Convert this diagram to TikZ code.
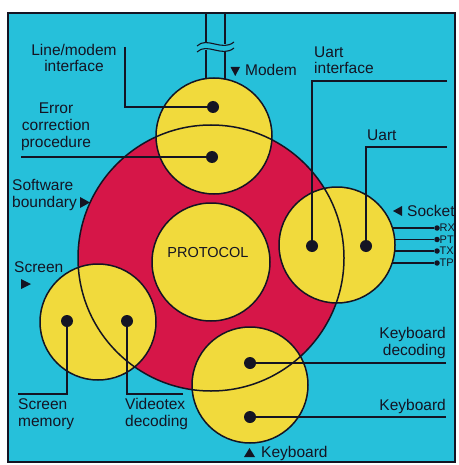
\documentclass[tikz,border=0pt]{standalone}
\usepackage{fontspec}
\setmainfont{Liberation Sans}
\definecolor{bgcyan}{RGB}{38,192,218}
\definecolor{pred}{RGB}{214,22,72}
\definecolor{pyel}{RGB}{241,218,60}
\definecolor{ink}{RGB}{20,20,35}
\tikzset{
  lbl/.style={inner sep=0pt, font=\fontsize{15.5}{16.8}\selectfont, text=ink},
  small/.style={inner sep=0pt, font=\fontsize{11}{11}\selectfont, text=ink},
  bigdot/.style={circle, fill=ink, minimum size=12pt, inner sep=0pt},
  smalldot/.style={circle, fill=ink, minimum size=5.5pt, inner sep=0pt},
  leader/.style={draw=ink, line width=1.3pt},
  ring/.style={draw=ink, line width=1.5pt},
  tri/.style={fill=ink},
}
\begin{document}
\begin{tikzpicture}[x=1pt,y=-1pt]
\useasboundingbox (0,0) rectangle (458,465);
\fill[white] (0,0) rectangle (458,465);
% panel
\fill[bgcyan] (8,13) rectangle (455,462);
\draw[ink, line width=1.4pt] (8,13) rectangle (455,462);

% modem pipe (behind the top circle)
\coordinate (p1t) at (206,13);
\coordinate (p2t) at (225,13);
\coordinate (p1a) at (206,44);
\coordinate (p2a) at (225,44);
\coordinate (p1b) at (206,50);
\coordinate (p2b) at (225,50);
\coordinate (p1c) at (206,100);
\coordinate (p2c) at (225,100);
\draw[leader] (p1t) -- (p1a) (p2t) -- (p2a);
\draw[leader] (p1b) -- (p1c) (p2b) -- (p2c);
\coordinate (w1s) at (197,46);
\coordinate (w1e) at (234,42);
\coordinate (w2s) at (197,52);
\coordinate (w2e) at (234,48);
\fill[bgcyan] (w1s) .. controls (207,36) and (222,52) .. (w1e) -- (w2e) .. controls (222,58) and (207,42) .. (w2s) -- cycle;
\draw[ink, line width=1.1pt] (w1s) .. controls (207,36) and (222,52) .. (w1e);
\draw[ink, line width=1.1pt] (w2s) .. controls (207,42) and (222,58) .. (w2e);

% socket lines (behind the right circle)
\node[smalldot] (rx) at (437,228) {};
\node[smalldot] (pt) at (437,239.5) {};
\node[smalldot] (tx) at (437,251) {};
\node[smalldot] (tp) at (437,263) {};
\coordinate (rxs) at (370,228);
\coordinate (pts) at (370,239.5);
\coordinate (txs) at (370,251);
\coordinate (tps) at (370,263);
\draw[leader] (rxs) -- (rx);
\draw[leader] (pts) -- (pt);
\draw[leader] (txs) -- (tx);
\draw[leader] (tps) -- (tp);
\node[small, anchor=west] (rxl) at (439.5,228) {RX};
\node[small, anchor=west] (ptl) at (439.5,239.5) {PT};
\node[small, anchor=west] (txl) at (439.5,251) {TX};
\node[small, anchor=west] (tpl) at (439.5,263) {TP};

% software boundary (red)
\coordinate (rc) at (211,258);
\fill[pred] (rc) circle[radius=133];

% protocol
\node[circle, fill=pyel, ring, minimum size=118pt, inner sep=0pt] (proto) at (211,262) {};
\node[lbl, font=\fontsize{14.5}{16}\selectfont, anchor=base] (ptext) at (208,257) {PROTOCOL};

% four yellow circles
\node[circle, fill=pyel, ring, minimum size=116pt, inner sep=0pt] (top) at (214,136) {};
\node[circle, fill=pyel, ring, minimum size=116pt, inner sep=0pt] (right) at (337,245) {};
\node[circle, fill=pyel, ring, minimum size=116pt, inner sep=0pt] (left) at (98,322) {};
\node[circle, fill=pyel, ring, minimum size=116pt, inner sep=0pt] (bottom) at (250,385) {};

% red circle outline on top
\draw[ring] (rc) circle[radius=133];

% dots
\node[bigdot] (d1) at (213,107) {};
\node[bigdot] (d2) at (212,157) {};
\node[bigdot] (d3) at (312,246) {};
\node[bigdot] (d4) at (366,246) {};
\node[bigdot] (d5) at (67,321) {};
\node[bigdot] (d6) at (127,321) {};
\node[bigdot] (d7) at (250,363) {};
\node[bigdot] (d8) at (250,417) {};

% leader end points
\coordinate (e1) at (125,47);
\coordinate (e2) at (21,157);
\coordinate (e3) at (447,81);
\coordinate (e4) at (447,147);
\coordinate (e5) at (18,394);
\coordinate (e6) at (183,394);
\coordinate (e7) at (446,363);
\coordinate (e8) at (446,417);

\draw[leader] (e1) |- (d1);
\draw[leader] (e2) -- (d2);
\draw[leader] (e3) -| (d3);
\draw[leader] (e4) -| (d4);
\draw[leader] (e5) -| (d5);
\draw[leader] (e6) -| (d6);
\draw[leader] (e7) -- (d7);
\draw[leader] (e8) -- (d8);

% labels (anchor=base is the baseline of the last line)
\node[lbl, align=center, anchor=base] (t1) at (74,72) {Line/modem\\interface};
\node[lbl, align=center, anchor=base] (t2) at (56,147) {Error\\correction\\procedure};
\node[lbl, align=left, anchor=base west] (t3) at (12,207) {Software\\boundary};
\fill[tri] (80,197) -- (90,202.5) -- (80,208) -- cycle;
\fill[tri] (230.5,67) -- (240,67) -- (235.25,76) -- cycle;
\node[lbl, anchor=base west] (t4) at (245,76) {Modem};
\node[lbl, align=left, anchor=base west] (t5) at (314,74) {Uart\\interface};
\node[lbl, anchor=base west] (t6) at (367,141) {Uart};
\fill[tri] (402,206) -- (393,211) -- (402,216) -- cycle;
\node[lbl, anchor=base west] (t7) at (407,216) {Socket};
\node[lbl, anchor=base west] (t8) at (14,272) {Screen};
\fill[tri] (21,279) -- (31,284) -- (21,289) -- cycle;
\node[lbl, align=left, anchor=base west] (t9) at (18,426) {Screen\\memory};
\node[lbl, align=left, anchor=base west] (t10) at (125,426) {Videotex\\decoding};
\node[lbl, align=right, anchor=base east] (t11) at (446,355) {Keyboard\\decoding};
\node[lbl, anchor=base east] (t12) at (446,410) {Keyboard};
\fill[tri] (244,457) -- (249.5,448) -- (255,457) -- cycle;
\node[lbl, anchor=base west] (t13) at (261,457) {Keyboard};
\end{tikzpicture}
\end{document}
